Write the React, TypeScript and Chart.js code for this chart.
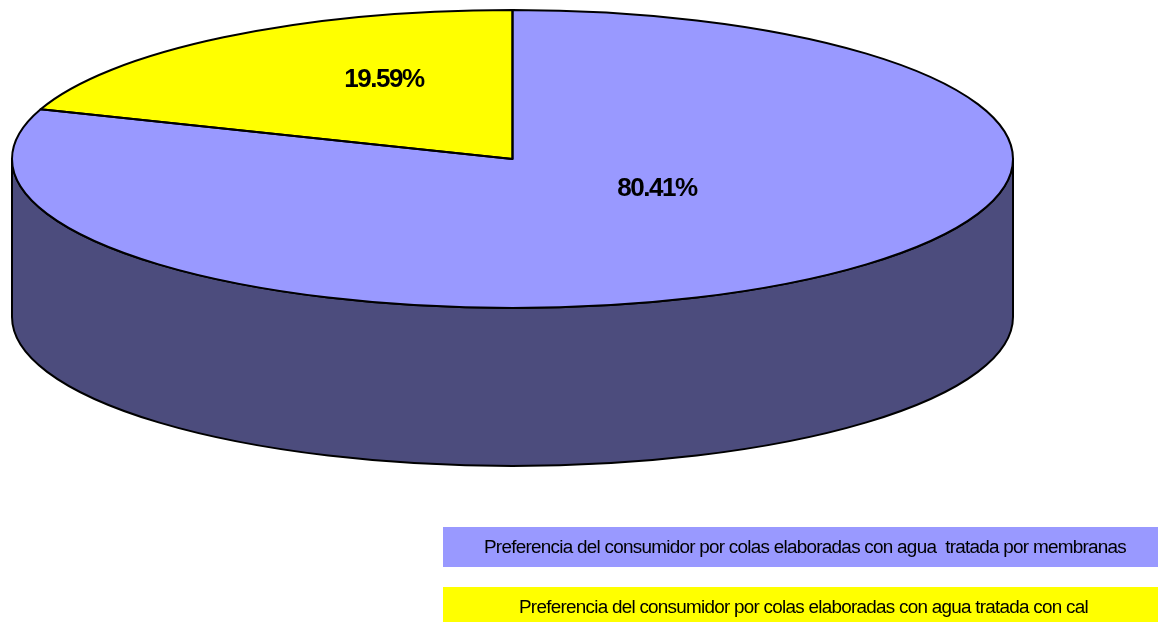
import React, { useEffect, useRef } from "react";
import { Chart, registerables } from "chart.js";

Chart.register(...registerables);

// ---- data ----
const categories = [
  "Preferencia del consumidor por colas elaboradas con agua  tratada por membranas",
  "Preferencia del consumidor por colas elaboradas con agua tratada con cal",
];
const shares = [80.41, 19.59];
const faceColors = ["#9999FF", "#FFFF00"];
const sideColors = ["#4C4C7D", "#80801A"];

// ---- styling / geometry constants ----
const CX = 512.5;
const CY = 159;
const RX = 500.5;
const RY = 149;
const DEPTH = 158;
const LABEL_SHIFT = [
  [0, -31],
  [16, -18],
];
const LEGEND_BOX = { left: 443, right: 1158, tops: [527, 587], height: 40 };
const LEGEND_TEXT_WIDTH = [642, 569];
const LEGEND_TEXT_CENTER = [805, 803.5];
const FONT = "'Liberation Sans', Arial, sans-serif";

function fitSpacing(ctx: CanvasRenderingContext2D, text: string, target: number) {
  (ctx as any).letterSpacing = "0px";
  const w = ctx.measureText(text).width;
  const ls = (target - w) / Math.max(text.length - 1, 1);
  (ctx as any).letterSpacing = ls.toFixed(2) + "px";
}

const pie3d = {
  id: "pie3d",
  beforeDatasetsDraw(chart: any) {
    const ctx: CanvasRenderingContext2D = chart.ctx;
    const arcs = chart.getDatasetMeta(0).data;
    // side walls (visible front half)
    arcs.forEach((arc: any, i: number) => {
      const { startAngle, endAngle } = arc.getProps(["startAngle", "endAngle"], true);
      for (const k of [-2 * Math.PI, 0, 2 * Math.PI]) {
        const a0 = Math.max(startAngle, k);
        const a1 = Math.min(endAngle, k + Math.PI);
        if (a1 > a0) {
          ctx.save();
          ctx.beginPath();
          ctx.ellipse(CX, CY, RX, RY, 0, a0, a1, false);
          ctx.ellipse(CX, CY + DEPTH, RX, RY, 0, a1, a0, true);
          ctx.closePath();
          ctx.fillStyle = sideColors[i];
          ctx.fill();
          ctx.lineWidth = 2;
          ctx.lineJoin = "round";
          ctx.strokeStyle = "#000";
          ctx.stroke();
          ctx.restore();
        }
      }
    });
    const first = arcs[0];
    const r = first.outerRadius;
    ctx.save();
    ctx.translate(CX, CY);
    ctx.scale(RX / r, RY / r);
    ctx.translate(-first.x, -first.y);
  },
  afterDatasetsDraw(chart: any) {
    const ctx: CanvasRenderingContext2D = chart.ctx;
    ctx.restore();
    const arcs = chart.getDatasetMeta(0).data;
    const values: number[] = chart.data.datasets[0].data;
    const total = values.reduce((a, b) => a + b, 0);
    // top outlines
    arcs.forEach((arc: any) => {
      const { startAngle, endAngle } = arc.getProps(["startAngle", "endAngle"], true);
      ctx.save();
      ctx.beginPath();
      ctx.moveTo(CX, CY);
      ctx.ellipse(CX, CY, RX, RY, 0, startAngle, endAngle, false);
      ctx.closePath();
      ctx.lineWidth = 2;
      ctx.lineJoin = "round";
      ctx.strokeStyle = "#000";
      ctx.stroke();
      ctx.restore();
    });
    // percentage labels
    arcs.forEach((arc: any, i: number) => {
      const { startAngle, endAngle } = arc.getProps(["startAngle", "endAngle"], true);
      const mid = (startAngle + endAngle) / 2;
      const x = CX + 0.5 * RX * Math.cos(mid) + LABEL_SHIFT[i][0];
      const y = CY + 0.5 * RY * Math.sin(mid) + LABEL_SHIFT[i][1];
      const txt = ((values[i] / total) * 100).toFixed(2) + "%";
      ctx.save();
      ctx.font = "bold 26px " + FONT;
      fitSpacing(ctx, txt, 81);
      ctx.fillStyle = "#000";
      ctx.textAlign = "center";
      ctx.textBaseline = "middle";
      ctx.fillText(txt, x, y);
      ctx.restore();
    });
  },
  afterDraw(chart: any) {
    const ctx: CanvasRenderingContext2D = chart.ctx;
    const labels: string[] = chart.data.labels;
    const colors: string[] = chart.data.datasets[0].backgroundColor;
    labels.forEach((lab, i) => {
      const top = LEGEND_BOX.tops[i];
      ctx.save();
      ctx.fillStyle = colors[i];
      ctx.fillRect(LEGEND_BOX.left, top, LEGEND_BOX.right - LEGEND_BOX.left, LEGEND_BOX.height);
      ctx.font = "18px " + FONT;
      (ctx as any).letterSpacing = "-0.7px";
      const w = ctx.measureText(lab).width;
      const sx = LEGEND_TEXT_WIDTH[i] / w;
      ctx.translate(LEGEND_TEXT_CENTER[i], top + 26);
      ctx.scale(sx, 1);
      ctx.fillStyle = "#000";
      ctx.textAlign = "center";
      ctx.textBaseline = "alphabetic";
      ctx.fillText(lab, 0, 0);
      ctx.restore();
    });
  },
};

export default function App() {
  const ref = useRef<HTMLCanvasElement | null>(null);
  useEffect(() => {
    document.body.style.margin = "0";
    const canvas = ref.current;
    if (!canvas) return;
    const chart = new Chart(canvas, {
      type: "pie",
      data: {
        labels: categories,
        datasets: [
          {
            data: shares,
            backgroundColor: faceColors,
            borderWidth: 0,
            hoverOffset: 0,
            clip: false as any,
          },
        ],
      },
      options: {
        animation: false,
        responsive: false,
        devicePixelRatio: 1,
        events: [],
        layout: { padding: { top: 10, bottom: 314, left: 0, right: 139 } },
        plugins: {
          legend: { display: false },
          tooltip: { enabled: false },
        },
      },
      plugins: [pie3d],
    });
    return () => chart.destroy();
  }, []);
  return (
    <div style={{ width: 1164, height: 622, background: "#fff" }}>
      <canvas ref={ref} width={1164} height={622} style={{ display: "block" }} />
    </div>
  );
}
